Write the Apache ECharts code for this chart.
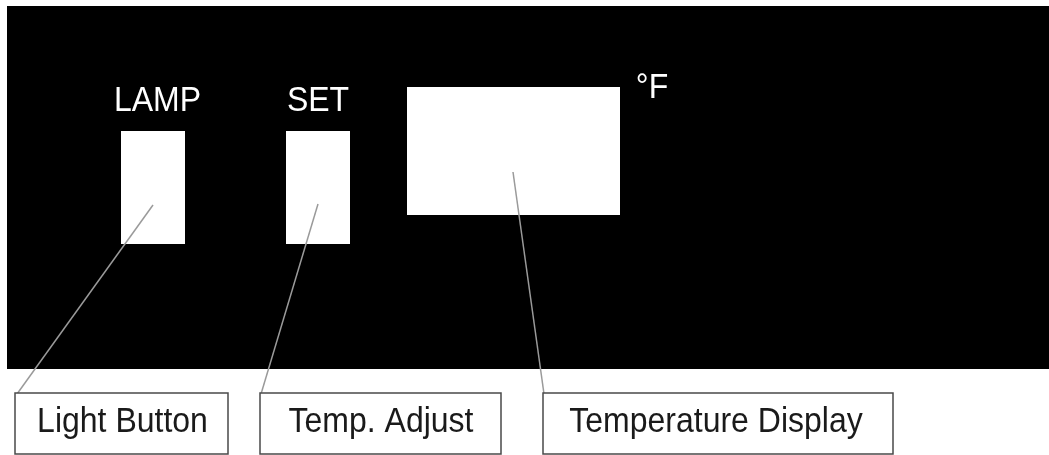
<!DOCTYPE html>
<html>
<head>
<meta charset="utf-8">
<script src="https://cdn.jsdelivr.net/npm/echarts@6/dist/echarts.min.js"></script>
<style>
html,body{margin:0;padding:0;background:#fff;}
#c{width:1049px;height:455px;}
</style>
</head>
<body>
<div id="c"></div>
<script>
// Diagram content (in pixel-like data units of the hidden axes)
var panel = [[7, 6, 1049, 369]];
var buttons = [[121, 131, 185, 244], [286, 131, 350, 244], [407, 87, 620, 215]];
var panelLabels = ['LAMP', 'SET', '°F'];
var panelLabelPos = [[157.5, 101], [318, 101], [652, 88]];
var leaders = [[153, 205, 17, 394], [318, 204, 261, 394], [513, 172, 544, 394]];
var calloutBoxes = [[15, 393, 228, 454], [260, 393, 501, 454], [543, 393, 893, 454]];
var calloutLabels = ['Light Button', 'Temp. Adjust', 'Temperature Display'];
var calloutLabelPos = [[122.5, 422], [381, 422], [716, 422]];

var FONT = "'Liberation Sans', Arial, sans-serif";

function rectItem(fill, stroke, lw) {
  return function (params, api) {
    var p1 = api.coord([api.value(0), api.value(1)]);
    var p2 = api.coord([api.value(2), api.value(3)]);
    return {
      type: 'rect',
      shape: {x: Math.min(p1[0], p2[0]), y: Math.min(p1[1], p2[1]),
              width: Math.abs(p2[0] - p1[0]), height: Math.abs(p2[1] - p1[1])},
      style: {fill: fill, stroke: stroke, lineWidth: lw}
    };
  };
}
function lineItem(params, api) {
  var p1 = api.coord([api.value(0), api.value(1)]);
  var p2 = api.coord([api.value(2), api.value(3)]);
  return {
    type: 'line',
    shape: {x1: p1[0], y1: p1[1], x2: p2[0], y2: p2[1]},
    style: {stroke: '#9a9a9a', lineWidth: 1.5}
  };
}
function textItem(texts, color) {
  return function (params, api) {
    var p = api.coord([api.value(0), api.value(1)]);
    return {
      type: 'text',
      x: p[0], y: p[1],
      scaleY: 1.08,
      style: {
        text: texts[params.dataIndex], x: 0, y: 0,
        fill: color,
        font: '32px ' + FONT,
        textAlign: 'center', textVerticalAlign: 'middle',
        align: 'center', verticalAlign: 'middle'
      }
    };
  };
}

var chart = echarts.init(document.getElementById('c'), null, {renderer: 'canvas'});
chart.setOption({
  animation: false,
  backgroundColor: '#ffffff',
  grid: {left: 0, right: 0, top: 0, bottom: 0},
  xAxis: {type: 'value', min: 0, max: 1049, show: false},
  yAxis: {type: 'value', min: 0, max: 455, inverse: true, show: false},
  series: [
    {type: 'custom', data: panel, encode: {x: [0, 2], y: [1, 3]}, clip: false, silent: true,
     renderItem: rectItem('#000000', null, 0), z: 1},
    {type: 'custom', data: buttons, encode: {x: [0, 2], y: [1, 3]}, clip: false, silent: true,
     renderItem: rectItem('#ffffff', null, 0), z: 2},
    {type: 'custom', data: panelLabelPos, encode: {x: 0, y: 1}, clip: false, silent: true,
     renderItem: textItem(panelLabels, '#ffffff'), z: 3},
    {type: 'custom', data: leaders, encode: {x: [0, 2], y: [1, 3]}, clip: false, silent: true,
     renderItem: lineItem, z: 4},
    {type: 'custom', data: calloutBoxes, encode: {x: [0, 2], y: [1, 3]}, clip: false, silent: true,
     renderItem: rectItem('#ffffff', '#4a4a4a', 1.5), z: 5},
    {type: 'custom', data: calloutLabelPos, encode: {x: 0, y: 1}, clip: false, silent: true,
     renderItem: textItem(calloutLabels, '#1a1a1a'), z: 6}
  ]
});
</script>
</body>
</html>
